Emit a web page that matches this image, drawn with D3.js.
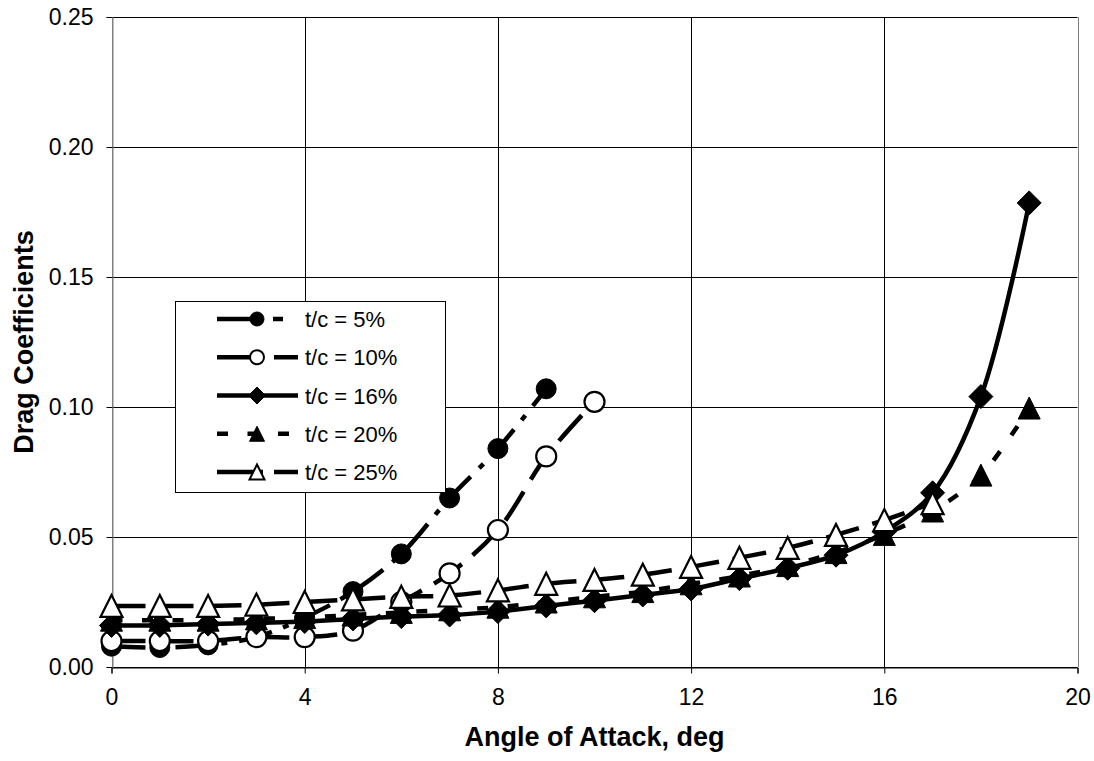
<!DOCTYPE html>
<html>
<head>
<meta charset="utf-8">
<script src="https://cdn.jsdelivr.net/npm/d3@7/dist/d3.min.js"></script>
<style>
  body { margin: 0; background: #fff; }
  svg { display: block; }
  text { font-family: Arial, "Liberation Sans", sans-serif; fill: #000; }
</style>
</head>
<body>
<svg id="chart" width="1094" height="761"></svg>
<script>
// Angle of attack (deg) for each measured point
const angleOfAttack = [0, 1, 2, 3, 4, 5, 6, 7, 8, 9, 10, 11, 12, 13, 14, 15, 16, 17, 18, 19];

// Drag coefficient per thickness ratio (index = angle of attack in deg)
const cdThick5  = [0.008, 0.0075, 0.0085, 0.0115, 0.019, 0.029, 0.0435, 0.065, 0.084, 0.107];
const cdThick10 = [0.010, 0.010, 0.010, 0.0115, 0.0115, 0.014, 0.025, 0.036, 0.0527, 0.081, 0.102];
const cdThick16 = [0.016, 0.016, 0.0165, 0.017, 0.0175, 0.0185, 0.0194, 0.020, 0.0213, 0.0235, 0.0255,
                   0.0277, 0.030, 0.034, 0.038, 0.043, 0.052, 0.067, 0.104, 0.1785];
const cdThick20 = [0.018, 0.018, 0.018, 0.0185, 0.019, 0.020, 0.021, 0.022, 0.023, 0.025, 0.027,
                   0.029, 0.032, 0.035, 0.039, 0.044, 0.051, 0.060, 0.0738, 0.0996];
const cdThick25 = [0.0235, 0.0235, 0.0235, 0.024, 0.025, 0.026, 0.027, 0.0275, 0.0295, 0.032, 0.0335,
                   0.0355, 0.0385, 0.042, 0.0458, 0.0508, 0.0565, 0.063];

const seriesLabels = ["t/c = 5%", "t/c = 10%", "t/c = 16%", "t/c = 20%", "t/c = 25%"];
const xTicks = [0, 4, 8, 12, 16, 20];
const yTicks = [0.00, 0.05, 0.10, 0.15, 0.20, 0.25];

// Line styles: long dash dot, long dash, solid, short dash, long dash
const series = [
  { label: seriesLabels[0], values: cdThick5,  marker: "circle",   filled: true,  dash: "34,12,6,12", legendDash: "46,10,10,40" },
  { label: seriesLabels[1], values: cdThick10, marker: "circle",   filled: false, dash: "34,14",      legendDash: "46,11" },
  { label: seriesLabels[2], values: cdThick16, marker: "diamond",  filled: true,  dash: null,         legendDash: null },
  { label: seriesLabels[3], values: cdThick20, marker: "triangle", filled: true,  dash: "11,19.5",    legendDash: "11,19.5" },
  { label: seriesLabels[4], values: cdThick25, marker: "triangle", filled: false, dash: "34,14",      legendDash: "46,11" }
];

const svg = d3.select("#chart");
const plot = { left: 111.5, right: 1077.5, top: 17, bottom: 667 };

const x = d3.scaleLinear().domain([0, 20]).range([plot.left, plot.right]);
const y = d3.scaleLinear().domain([0, 0.25]).range([plot.bottom, plot.top]);

// Gridlines
const grid = svg.append("g");
grid.selectAll(".hg").data(yTicks).join("line")
  .attr("x1", plot.left).attr("x2", plot.right)
  .attr("y1", d => Math.round(y(d)) + 0.5).attr("y2", d => Math.round(y(d)) + 0.5)
  .attr("stroke", "#000").attr("stroke-width", 1);
grid.selectAll(".vg").data(xTicks).join("line")
  .attr("x1", d => Math.round(x(d)) + 0.5).attr("x2", d => Math.round(x(d)) + 0.5)
  .attr("y1", plot.top).attr("y2", plot.bottom)
  .attr("stroke", d => (d === 0 || d === 20) ? "#808080" : "#000").attr("stroke-width", 1);

// Axes
const xAxis = d3.axisBottom(x).tickValues(xTicks).tickFormat(d3.format("d")).tickSize(6).tickPadding(15);
const yAxis = d3.axisLeft(y).tickValues(yTicks).tickFormat(d3.format(".2f")).tickSize(6).tickPadding(13);

const gx = svg.append("g").attr("transform", `translate(0,${Math.round(plot.bottom) + 0.5})`).call(xAxis);
const gy = svg.append("g").attr("transform", `translate(${Math.round(plot.left) + 0.5},0)`).call(yAxis);
[gx, gy].forEach(g => {
  g.select(".domain").attr("stroke", "#000");
  g.selectAll(".tick line").attr("stroke", "#000");
  g.selectAll(".tick text").attr("font-size", 23).attr("font-family", "Arial, 'Liberation Sans', sans-serif").attr("fill", "#000");
});
gy.select(".domain").attr("stroke", "#808080");

// Axis titles
svg.append("text")
  .attr("x", (plot.left + plot.right) / 2).attr("y", 746)
  .attr("text-anchor", "middle").attr("font-size", 27).attr("font-weight", "bold")
  .text("Angle of Attack, deg");
svg.append("text")
  .attr("transform", `translate(33,${(plot.top + plot.bottom) / 2}) rotate(-90)`)
  .attr("text-anchor", "middle").attr("font-size", 27).attr("font-weight", "bold")
  .text("Drag Coefficients");

// Marker shapes, sized in px around the point
function markerPath(kind, s) {
  if (kind === "diamond") return `M0,${-s}L${s},0L0,${s}L${-s},0Z`;
  if (kind === "triangle") return `M0,${-s}L${s},${s}L${-s},${s}Z`;
  return d3.arc()({ innerRadius: 0, outerRadius: s, startAngle: 0, endAngle: 2 * Math.PI });
}
function markerSize(kind) {
  if (kind === "diamond") return 12;
  if (kind === "triangle") return 11;
  return 10;
}

const line = d3.line()
  .x((d, i) => x(angleOfAttack[i]))
  .y(d => y(d))
  .curve(d3.curveCatmullRom.alpha(0.5));

const layer = svg.append("g");
series.forEach(s => {
  const g = layer.append("g");
  g.append("path")
    .attr("d", line(s.values))
    .attr("fill", "none").attr("stroke", "#000").attr("stroke-width", 4.5)
    .attr("stroke-dasharray", s.dash);
  g.selectAll("path.mk").data(s.values).join("path")
    .attr("class", "mk")
    .attr("transform", (d, i) => `translate(${x(angleOfAttack[i])},${y(d)})`)
    .attr("d", markerPath(s.marker, markerSize(s.marker)))
    .attr("fill", s.filled ? "#000" : "#fff")
    .attr("stroke", "#000").attr("stroke-width", s.filled ? 1 : 2.2)
    .attr("stroke-linejoin", "miter");
});

// Legend
const legend = svg.append("g");
legend.append("rect")
  .attr("x", 175.5).attr("y", 301.5).attr("width", 270).attr("height", 191)
  .attr("fill", "#fff").attr("stroke", "#000").attr("stroke-width", 1);
const rowY = d3.scalePoint().domain(seriesLabels).range([319, 472]);
series.forEach(s => {
  const cy = rowY(s.label);
  legend.append("line")
    .attr("x1", 217).attr("x2", 298).attr("y1", cy).attr("y2", cy)
    .attr("stroke", "#000").attr("stroke-width", 4.5)
    .attr("stroke-dasharray", s.legendDash);
  const ms = s.marker === "diamond" ? 8.5 : s.marker === "triangle" ? 7.5 : 7;
  legend.append("path")
    .attr("transform", `translate(257,${cy})`)
    .attr("d", markerPath(s.marker, ms))
    .attr("fill", s.filled ? "#000" : "#fff")
    .attr("stroke", "#000").attr("stroke-width", s.filled ? 1 : 2);
  legend.append("text")
    .attr("x", 305).attr("y", cy + 8)
    .attr("font-size", 22)
    .text(s.label);
});
</script>
</body>
</html>
